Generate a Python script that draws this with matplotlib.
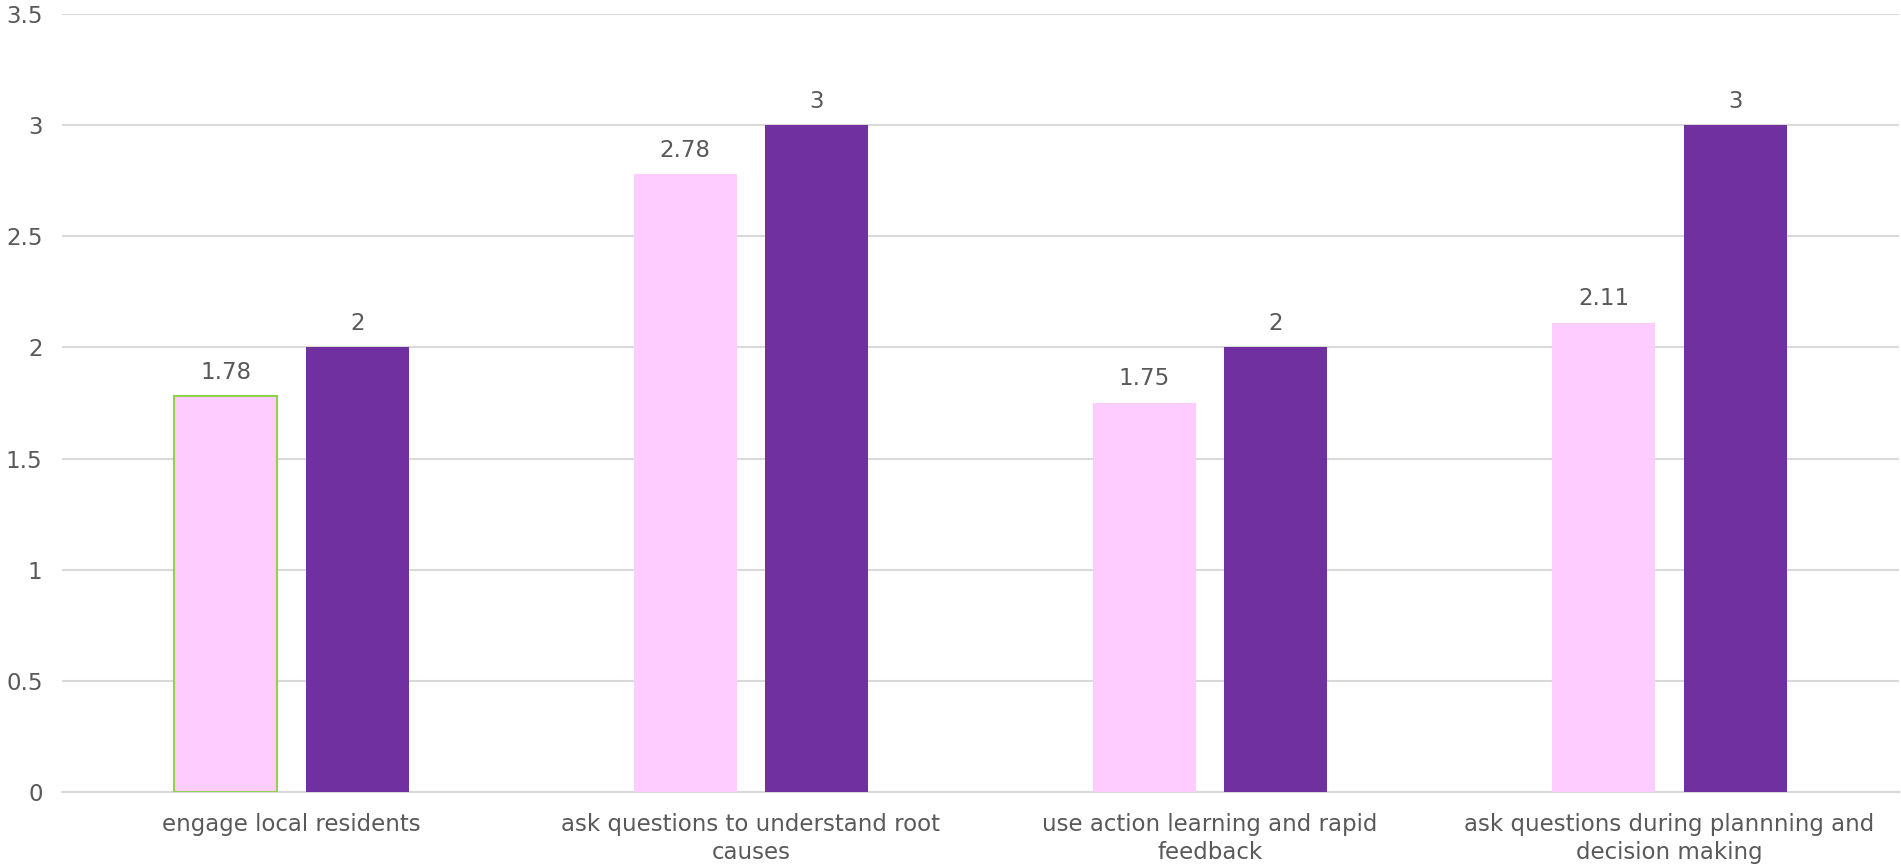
import matplotlib.pyplot as plt
import numpy as np

# data
categories = ["engage local residents",
              "ask questions to understand root\ncauses",
              "use action learning and rapid\nfeedback",
              "ask questions during plannning and\ndecision making"]
series_a = [1.78, 2.78, 1.75, 2.11]
series_b = [2, 3, 2, 3]
label_a = ["1.78", "2.78", "1.75", "2.11"]
label_b = ["2", "3", "2", "3"]
yticks = [0, 0.5, 1, 1.5, 2, 2.5, 3, 3.5]
ytick_labels = ["0", "0.5", "1", "1.5", "2", "2.5", "3", "3.5"]

plt.rcParams['font.family'] = ['DejaVu Sans']
text_col = "#595959"
fs = 16.5

fig = plt.figure(figsize=(19.01, 8.68), dpi=100)
ax = fig.add_axes([0.0326, 0.0876, 0.9664, 0.8963])

x = np.arange(len(categories))
w = 0.224
off = 0.143
bars_a = ax.bar(x - off, series_a, w, color="#FFCCFF", zorder=3)
bars_b = ax.bar(x + off, series_b, w, color="#7030A0", zorder=3)
# first pink bar has a green outline in the original
bars_a[0].set_edgecolor("#92D050")
bars_a[0].set_linewidth(1.5)

for b, t in zip(bars_a, label_a):
    ax.annotate(t, (b.get_x() + b.get_width() / 2, b.get_height()), xytext=(0, 9),
                textcoords="offset points", ha="center", va="bottom", fontsize=fs, color=text_col)
for b, t in zip(bars_b, label_b):
    ax.annotate(t, (b.get_x() + b.get_width() / 2, b.get_height()), xytext=(0, 9),
                textcoords="offset points", ha="center", va="bottom", fontsize=fs, color=text_col)

ax.set_xlim(-0.5, len(categories) - 0.5)
ax.set_ylim(0, 3.5)
ax.set_yticks(yticks)
ax.set_yticklabels(ytick_labels)
ax.set_xticks(x)
ax.set_xticklabels(categories, linespacing=1.3)
ax.tick_params(axis="y", length=0, pad=14, labelsize=fs, labelcolor=text_col)
ax.tick_params(axis="x", length=0, pad=15, labelsize=fs, labelcolor=text_col)
ax.grid(axis="y", color="#D9D9D9", linewidth=1.5, zorder=0)
for s in ["top", "right", "left"]:
    ax.spines[s].set_visible(False)
ax.spines["bottom"].set_color("#D9D9D9")
ax.spines["bottom"].set_linewidth(1.5)

fig.savefig("out.png", dpi=100)
